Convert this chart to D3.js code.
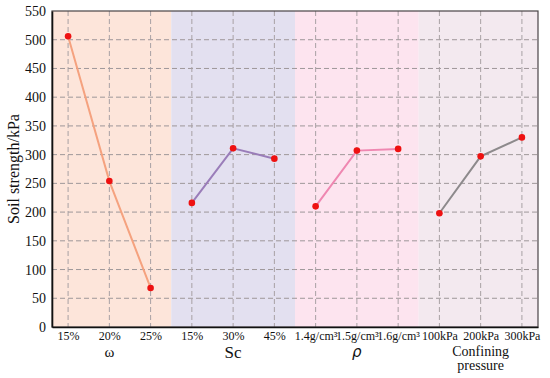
<!DOCTYPE html>
<html>
<head>
<meta charset="utf-8">
<script src="https://cdn.jsdelivr.net/npm/d3@7"></script>
<style>
  body { margin: 0; background: #fff; }
</style>
</head>
<body>
<svg id="chart" width="550" height="378"></svg>
<script>
"use strict";

// data
const ticks_x = ['15%', '20%', '25%', '15%', '30%', '45%',
  '1.4g/cm\u00b3', '1.5g/cm\u00b3', '1.6g/cm\u00b3', '100kPa', '200kPa', '300kPa'];
const groups = ['\u03c9', 'Sc', '\u03c1', 'Confining pressure'];
const values_w = [506, 254, 68];
const values_sc = [216, 311, 293];
const values_rho = [210, 307, 310];
const values_cp = [198, 297, 330];
const ticks_y = [0, 50, 100, 150, 200, 250, 300, 350, 400, 450, 500, 550];

const band_colors = ['#fde5da', '#e3e0f0', '#fde4ef', '#f3e9ef'];
const line_colors = ['#f5a27f', '#9a7db9', '#ef87b1', '#8d8a8c'];

const series = [values_w, values_sc, values_rho, values_cp];

const m = { left: 52, right: 12, top: 11, bottom: 51 };
const W = 550, H = 378;
const svg = d3.select('#chart');

const x = d3.scalePoint()
  .domain(d3.range(ticks_x.length))
  .range([m.left, W - m.right])
  .padding(0.39);

const y = d3.scaleLinear()
  .domain([0, 550])
  .range([H - m.bottom, m.top]);

// background bands
const step = x.step();
groups.forEach((g, i) => {
  const x0 = i == 0 ? m.left : x(i * 3) - step / 2;
  const x1 = i == groups.length - 1 ? W - m.right : x(i * 3 + 2) + step / 2;
  svg.append('rect')
    .attr('x', x0).attr('y', m.top)
    .attr('width', x1 - x0).attr('height', y(0) - m.top)
    .attr('fill', band_colors[i]);
});

// grid
svg.append('g')
  .selectAll('line.h')
  .data(ticks_y.filter(d => d > 0 && d < 550))
  .join('line')
  .attr('x1', m.left).attr('x2', W - m.right)
  .attr('y1', d => y(d)).attr('y2', d => y(d))
  .attr('stroke', '#9e9799').attr('stroke-width', 1)
  .attr('stroke-dasharray', '5,3');

svg.append('g')
  .selectAll('line.v')
  .data(x.domain())
  .join('line')
  .attr('x1', d => x(d)).attr('x2', d => x(d))
  .attr('y1', m.top).attr('y2', y(0))
  .attr('stroke', '#a8a1a4').attr('stroke-width', 1)
  .attr('stroke-dasharray', '5,3');

// frame
svg.append('rect')
  .attr('x', m.left).attr('y', m.top)
  .attr('width', W - m.right - m.left).attr('height', y(0) - m.top)
  .attr('fill', 'none').attr('stroke', '#4a4446').attr('stroke-width', 1.2);

// y axis
const yAxis = svg.append('g')
  .attr('transform', `translate(${m.left},0)`)
  .call(d3.axisLeft(y).tickValues(ticks_y).tickSize(0).tickPadding(6));
yAxis.select('.domain').attr('stroke', '#111').attr('stroke-width', 1.6);
yAxis.selectAll('text').attr('font-size', 14);

// x axis
const xAxis = svg.append('g')
  .attr('transform', `translate(0,${y(0)})`)
  .call(d3.axisBottom(x).tickFormat(i => ticks_x[i]).tickSize(0).tickPadding(4));
xAxis.select('.domain').attr('stroke', '#111').attr('stroke-width', 1.6);
xAxis.selectAll('text').attr('font-size', 12);

// group labels
const gl = svg.append('g');
gl.append('text').attr('x', x(1)).attr('y', 357).attr('text-anchor', 'middle')
  .attr('font-size', 15).text(groups[0]);
gl.append('text').attr('x', x(4)).attr('y', 358).attr('text-anchor', 'middle')
  .attr('font-size', 17).text(groups[1]);
gl.append('text').attr('x', x(7)).attr('y', 357).attr('text-anchor', 'middle')
  .attr('font-size', 15).attr('font-style', 'italic')
  .attr('class', 'sans').text(groups[2]);
const cp = groups[3].split(' ');
gl.append('text').attr('x', x(10)).attr('y', 356).attr('text-anchor', 'middle')
  .attr('font-size', 14).text(cp[0]);
gl.append('text').attr('x', x(10)).attr('y', 370).attr('text-anchor', 'middle')
  .attr('font-size', 14).text(cp[1]);

// y title
svg.append('text')
  .attr('transform', `translate(19,${(m.top + y(0)) / 2}) rotate(-90)`)
  .attr('text-anchor', 'middle')
  .attr('font-size', 16)
  .text('Soil strength/kPa');

// lines and points
const line = d3.line().x(d => x(d[0])).y(d => y(d[1]));
series.forEach((vals, i) => {
  const pts = vals.map((v, j) => [i * 3 + j, v]);
  svg.append('path')
    .datum(pts)
    .attr('d', line)
    .attr('fill', 'none')
    .attr('stroke', line_colors[i])
    .attr('stroke-width', 2);
  svg.append('g')
    .selectAll('circle')
    .data(pts)
    .join('circle')
    .attr('cx', d => x(d[0]))
    .attr('cy', d => y(d[1]))
    .attr('r', 3.3)
    .attr('fill', '#ee1111');
});

// fonts: set inline on every text
svg.selectAll('text').each(function () {
  const f = this.getAttribute('class') == 'sans' ? 'DejaVu Sans' : 'Liberation Serif';
  this.style.setProperty('font-family', f, 'important');
  this.style.setProperty('fill', '#111', 'important');
});
</script>
</body>
</html>
